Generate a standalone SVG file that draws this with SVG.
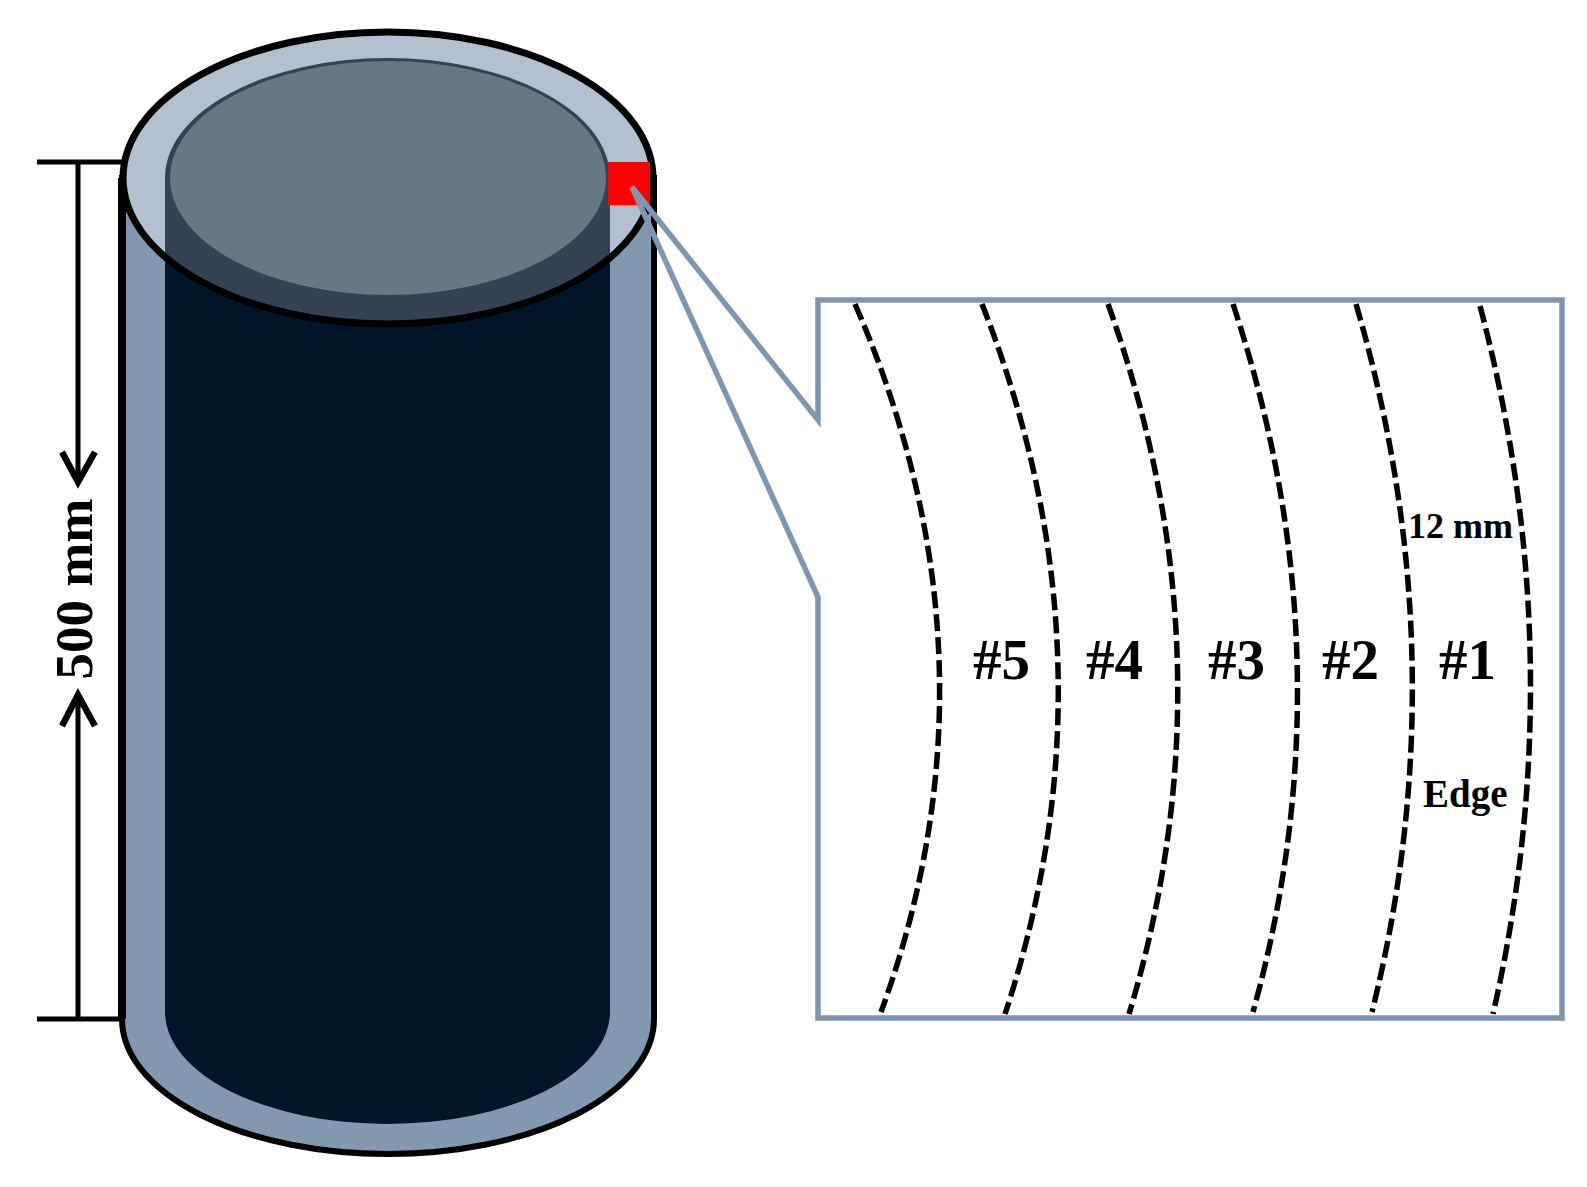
<svg xmlns="http://www.w3.org/2000/svg" width="1587" height="1187" viewBox="0 0 1587 1187">
<style>
.t{font-family:"Liberation Serif","Times New Roman",serif;font-weight:bold;fill:#000}
.n{font-size:57px}
.dash{fill:none;stroke:#000;stroke-width:5.5;stroke-dasharray:17 6}
.dim{fill:none;stroke:#000;stroke-width:5}
.head{fill:none;stroke:#000;stroke-width:6.5}
</style>
<defs>
<clipPath id="topClip"><ellipse cx="388" cy="178" rx="265" ry="146"/></clipPath>
</defs>
<rect width="1587" height="1187" fill="#fff"/>
<g id="cylinder">
<path d="M122,178V1019A266,135 0 0 0 654,1019V178Z" fill="#8299b0" stroke="#000" stroke-width="6"/>
<path d="M122,178V1019" fill="none" stroke="#000" stroke-width="8"/>
<path d="M165,178V1012A222.5,112 0 0 0 610,1012V178Z" fill="#001529"/>
<ellipse cx="388" cy="178" rx="265" ry="146" fill="#b3c0cf"/>
<path d="M165,178A222.5,120 0 0 1 610,178V330H165Z" fill="#354252" clip-path="url(#topClip)"/>
<ellipse cx="388" cy="178" rx="218" ry="117" fill="#697783"/>
<ellipse cx="388" cy="178" rx="265" ry="146" fill="none" stroke="#000" stroke-width="7"/>
</g>
<g id="marker"><rect x="608" y="162" width="42" height="43" fill="#f00"/></g>
<g id="callout">
<path d="M818,300H1562V1018H818V597L632,187L818,420Z" fill="none" stroke="#7f97ae" stroke-width="5.5"/>
</g>
<g id="connectors">
<path class="dash" d="M855,304Q1010,660 881,1012"/>
<path class="dash" d="M982,304Q1122,660 1005,1014"/>
<path class="dash" d="M1108,304Q1236,660 1129,1014"/>
<path class="dash" d="M1233,304Q1351,660 1253,1012"/>
<path class="dash" d="M1356,304Q1460,660 1372,1012"/>
<path class="dash" d="M1480,306Q1574,660 1493,1014"/>
</g>
<g id="dimension">
<path class="dim" d="M37,162H122M37,1019H122M78,162V482M78,695V1019"/>
<path class="head" d="M62,452L78,482L95,452M62,726L78,695L95,726"/>
<text class="t" font-size="53" transform="translate(92,589) rotate(-90)" text-anchor="middle">500 mm</text>
</g>
<g id="labels">
<text class="t n" x="973" y="679">#5</text>
<text class="t n" x="1086" y="679">#4</text>
<text class="t n" x="1208" y="679">#3</text>
<text class="t n" x="1322" y="679">#2</text>
<text class="t n" x="1439" y="679">#1</text>
<text class="t" x="1408" y="538" font-size="36">12 mm</text>
<text class="t" x="1423" y="807" font-size="39">Edge</text>
</g>
</svg>
